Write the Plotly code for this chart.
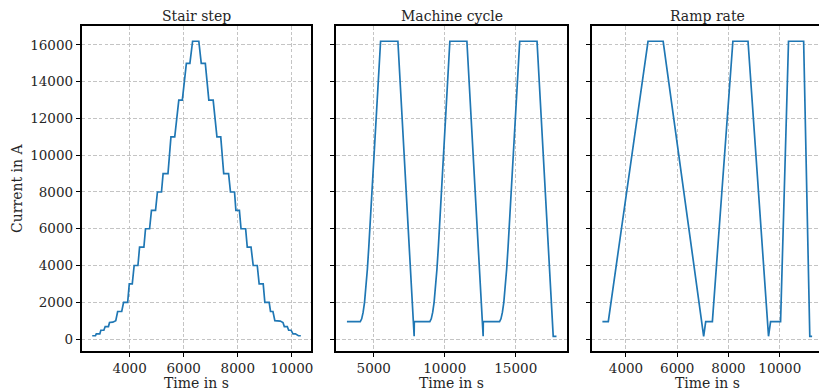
import plotly.graph_objects as go

# ---- Stair step profile (time in s, current in A) ----
stair_time = [2620, 2740, 2770, 2900, 2940, 3050, 3100, 3220, 3260, 3380, 3490,
              3560, 3710, 3780, 3930, 3990, 4100, 4170, 4310, 4370, 4530,
              4590, 4740, 4810, 4960, 5030, 5180, 5240, 5420, 5530, 5670,
              5820, 5950, 6100, 6230, 6330, 6560, 6650, 6800, 6930, 7090,
              7230, 7370, 7480, 7660, 7730, 7880, 7930, 8060, 8120, 8290,
              8350, 8490, 8570, 8720, 8790, 8940, 9000, 9160, 9210, 9300,
              9370, 9570, 9670, 9720, 9830, 9880, 9970, 10040, 10130, 10240, 10330]
stair_current = [180, 180, 280, 280, 480, 480, 680, 680, 900, 920, 1000,
                 1500, 1500, 2000, 2000, 3000, 3000, 4000, 4000, 5000, 5000,
                 6000, 6000, 7000, 7000, 8000, 8000, 9000, 9000, 11000, 11000,
                 13000, 13000, 15000, 15000, 16200, 16200, 15000, 15000, 13000, 13000,
                 11000, 11000, 9000, 9000, 8000, 8000, 7000, 7000, 6000, 6000,
                 5000, 5000, 4000, 4000, 3000, 3000, 2000, 2000, 1500, 1500,
                 1000, 980, 900, 680, 680, 480, 480, 280, 280, 180, 180]

# ---- Machine cycle profile ----
machine_time = [3110, 4050, 4150, 4250, 4350, 4450, 4550, 4650, 4750, 4850, 5480,
                6700, 7845, 7855,
                8950, 9050, 9150, 9250, 9350, 9450, 9550, 9650, 9750, 10360,
                11560, 12705, 12715,
                13860, 13960, 14060, 14160, 14260, 14360, 14460, 14560, 14660, 15280,
                16500, 17640, 17870]
machine_current = [950, 950, 1100, 1450, 2000, 2800, 3800, 5000, 6400, 7800, 16200,
                   16200, 150, 950,
                   950, 1100, 1450, 2000, 2800, 3800, 5000, 6400, 7800, 16200,
                   16200, 150, 950,
                   950, 1100, 1450, 2000, 2800, 3800, 5000, 6400, 7800, 16200,
                   16200, 150, 150]

# ---- Ramp rate profile ----
ramp_time = [3080, 3310, 4860, 5450, 7030, 7110, 7370, 8170, 8760, 9560, 9640,
             10030, 10340, 10930, 11170, 11260]
ramp_current = [950, 950, 16200, 16200, 150, 950, 950, 16200, 16200, 150, 950,
                950, 16200, 16200, 150, 150]

panel_titles = ["Stair step", "Machine cycle", "Ramp rate"]
x_label = "Time in s"
y_label = "Current in A"
y_ticks = [0, 2000, 4000, 6000, 8000, 10000, 12000, 14000, 16000]
x_ticks = [[4000, 6000, 8000, 10000], [5000, 10000, 15000],
           [4000, 6000, 8000, 10000]]

W, H = 821, 391
LINE_BLUE = "#1f77b4"
FONT = "DejaVu Serif"

fig = go.Figure()
series = [(stair_time, stair_current), (machine_time, machine_current),
          (ramp_time, ramp_current)]
for i, (t, c) in enumerate(series):
    fig.add_trace(go.Scatter(x=t, y=c, mode="lines",
                             line=dict(color=LINE_BLUE, width=1.7),
                             xaxis="x" if i == 0 else f"x{i+1}",
                             yaxis="y" if i == 0 else f"y{i+1}",
                             showlegend=False, hoverinfo="skip"))

# pixel geometry of the three panels
px_left = [82, 337.3, 593.3]
px_right = [312, 568.3, W]
top_px, bot_px = 26, 351
x_ranges = [[2235, 10715], [2374, 18605], [2669, 11529]]
y_dom = [1 - bot_px / H, 1 - top_px / H]

grid = dict(showgrid=True, gridcolor="#c4c4c4", gridwidth=1, griddash="3.5px,2.2px")
tickfont = dict(family=FONT, size=13.5, color="#262626")

layout = dict(width=W, height=H, margin=dict(l=0, r=0, t=0, b=0),
              paper_bgcolor="white", plot_bgcolor="white")
for i in range(3):
    sfx = "" if i == 0 else str(i + 1)
    layout["xaxis" + sfx] = dict(
        domain=[px_left[i] / W, px_right[i] / W], range=x_ranges[i],
        anchor="y" + sfx, tickvals=x_ticks[i],
        ticktext=[str(v) for v in x_ticks[i]], ticks="outside", ticklen=4,
        tickwidth=1, tickcolor="black", tickfont=tickfont,
        showline=True, linecolor="black", linewidth=2, mirror=True,
        zeroline=False, **grid)
    layout["yaxis" + sfx] = dict(
        domain=y_dom, range=[-650, 17030], anchor="x" + sfx,
        tickvals=y_ticks, ticktext=[str(v) for v in y_ticks],
        ticks="outside", ticklen=4, tickwidth=1,
        tickcolor="black", tickfont=tickfont, showticklabels=(i == 0),
        showline=True, linecolor="black", linewidth=2,
        mirror=(i < 2), zeroline=False, **grid)
fig.update_layout(**layout)

annotations = []
for i in range(3):
    cx = (px_left[i] + (px_right[i] if i < 2 else 825)) / 2
    annotations.append(dict(text=panel_titles[i], x=cx / W, y=1 - 16 / H,
                            xref="paper", yref="paper", showarrow=False,
                            xanchor="center", yanchor="middle",
                            font=dict(family=FONT, size=14, color="#262626")))
    annotations.append(dict(text=x_label, x=cx / W, y=1 - 383 / H,
                            xref="paper", yref="paper", showarrow=False,
                            xanchor="center", yanchor="middle",
                            font=dict(family=FONT, size=14, color="#262626")))
annotations.append(dict(text=y_label, x=17 / W, y=1 - 188 / H,
                        xref="paper", yref="paper", showarrow=False,
                        textangle=-90, xanchor="center", yanchor="middle",
                        font=dict(family=FONT, size=14, color="#262626")))
fig.update_layout(annotations=annotations)

fig.write_html("out.html")
